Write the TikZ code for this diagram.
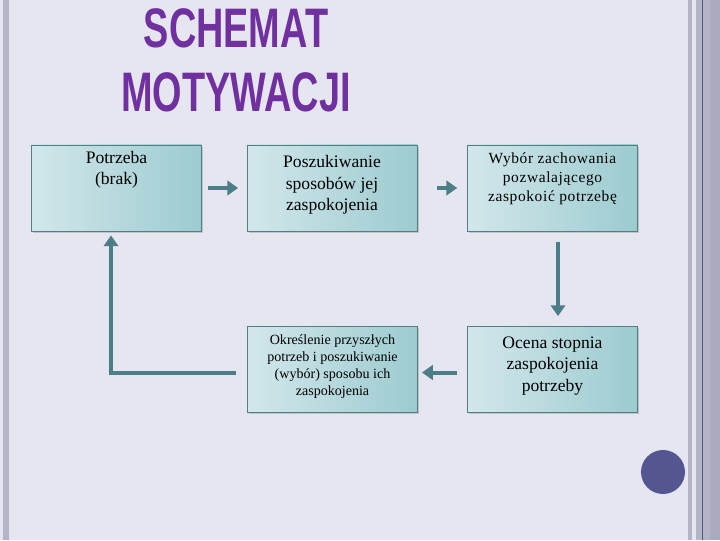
\documentclass[tikz,border=0pt]{standalone}
\usepackage{fontspec}
\setmainfont{Liberation Serif}
\newfontfamily\titlefont[FakeStretch=0.68]{Liberation Sans}
\usetikzlibrary{arrows.meta,shadows}

\definecolor{pagebg}{HTML}{E6E6F1}
\definecolor{stripegray}{HTML}{B4B4C8}
\definecolor{stripedark}{HTML}{55557F}
\definecolor{titlepurple}{HTML}{7030A0}
\definecolor{dotblue}{HTML}{545690}
\definecolor{boxedge}{HTML}{527F86}
\definecolor{boxlight}{HTML}{D2E7EB}
\definecolor{boxdark}{HTML}{9CCBD0}
\definecolor{arrowteal}{HTML}{4B7E86}

\begin{document}
\begin{tikzpicture}[x=0.025cm, y=-0.025cm,
    stage/.style={rectangle, draw=boxedge, line width=0.6pt, minimum width=4.25cm,
                  minimum height=2.15cm, align=center, left color=boxlight, right color=boxdark,
                  drop shadow={shadow xshift=1.2pt, shadow yshift=-1.2pt, opacity=0.35},
                  font=\fontsize{12.5}{15.2}\selectfont},
    flow/.style={-{Triangle[length=0.27cm,width=0.36cm]}, line width=0.1cm, draw=arrowteal}
]
    \fill[pagebg] (0,0) rectangle (720,540);
    \fill[stripegray] (3,0) rectangle (9,540);
    \fill[stripegray] (688,0) rectangle (692,540);
    \fill[stripegray] (696,0) rectangle (710,540);
    \fill[stripedark] (702,0) rectangle (703.2,540);
    \fill[stripegray!95!black] (710,0) rectangle (720,540);
    \useasboundingbox (0,0) rectangle (720,540);

    \node[font=\titlefont\bfseries\fontsize{39.6}{45.4}\selectfont, text=titlepurple, align=center, anchor=base] (title) at (236,111) {SCHEMAT\\MOTYWACJI};

    \node[stage, text depth=29pt] (need)   at (116.5,188) {Potrzeba\\(brak)};
    \node[stage, text depth=7pt]  (search) at (332,188)   {Poszukiwanie\\sposobów jej\\zaspokojenia};
    \node[stage, text depth=16pt, font=\fontsize{11}{13.5}\selectfont\addfontfeature{LetterSpace=4}] (choice) at (552.5,188) {Wybór zachowania\\pozwalającego\\zaspokoić potrzebę};
    \node[stage, text depth=8pt] (rate)   at (552.5,369.5) {Ocena stopnia\\zaspokojenia\\potrzeby};
    \node[stage, text depth=6pt, font=\fontsize{10}{12}\selectfont] (future) at (332.5,369.5) {Określenie przyszłych\\potrzeb i poszukiwanie\\(wybór) sposobu ich\\zaspokojenia};

    \draw[flow] ([xshift=4]need.east) -- ([xshift=-6]search.west);
    \draw[flow] ([xshift=14]search.east) -- ([xshift=-7]choice.west);
    \draw[flow] ([shift={(5.5,11)}]choice.south) -- ([shift={(5.5,-10)}]rate.north);
    \draw[flow] ([shift={(-10,3)}]rate.west) -- ([shift={(4,3)}]future.east);
    \draw[flow] ([shift={(-11,3)}]future.west) -| ([shift={(-5.5,4)}]need.south);

    \fill[dotblue] (663,472) circle[radius=22];
\end{tikzpicture}
\end{document}
